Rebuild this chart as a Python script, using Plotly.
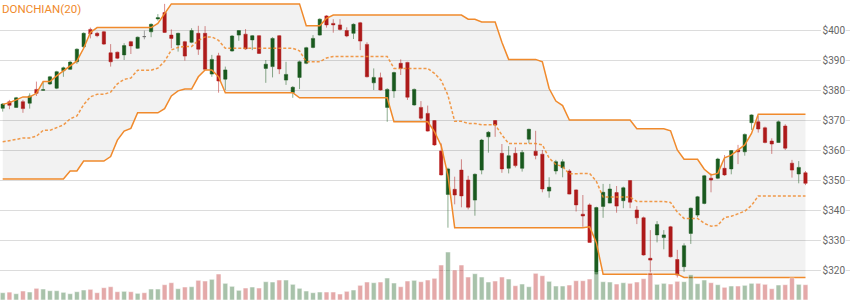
import plotly.graph_objects as go

# Daily OHLC prices
opens = [373.9, 376.1, 374.2, 376.1, 375.6, 380.2, 379.9, 382.0, 380.6, 386.4,
         386.9, 389.4, 394.4, 400.2, 398.9, 399.4, 392.4, 392.6, 391.7, 396.1,
         393.9, 397.8, 399.4, 403.7, 405.8, 398.3, 395.0, 396.1, 395.9, 398.9,
         398.9, 385.3, 391.4, 383.6, 393.0, 398.3, 398.6, 396.7, 398.1, 387.2,
         387.8, 398.1, 383.3, 379.2, 384.2, 388.9, 394.2, 398.3, 404.7, 402.2,
         401.7, 399.8, 398.9, 402.4, 395.2, 382.4, 384.1, 374.2, 379.7, 388.9,
         389.2, 375.0, 374.2, 372.2, 369.8, 359.7, 345.2, 346.9, 353.3, 350.0,
         343.3, 353.3, 364.4, 369.8, 358.9, 353.9, 358.9, 353.9, 363.6, 359.6,
         358.6, 346.3, 353.0, 354.1, 353.0, 346.7, 338.6, 341.7, 318.7, 341.2,
         342.3, 345.8, 343.1, 349.8, 340.0, 337.4, 323.9, 331.7, 330.8, 334.4,
         323.5, 321.1, 332.2, 338.3, 342.2, 350.6, 350.6, 353.9, 353.7, 360.0,
         359.4, 369.1, 369.4, 367.4, 363.0, 362.5, 368.0, 355.6, 352.0, 352.4]

highs = [375.6, 376.7, 377.7, 376.7, 378.9, 382.8, 382.8, 384.7, 386.4, 387.8,
         389.7, 393.9, 399.2, 400.8, 399.4, 399.7, 395.3, 392.8, 395.6, 396.4,
         397.8, 399.8, 402.2, 405.3, 408.7, 400.2, 399.1, 396.4, 400.6, 401.4,
         401.3, 391.7, 392.4, 387.8, 398.3, 400.0, 400.3, 398.3, 398.3, 390.0,
         397.6, 398.3, 389.4, 381.3, 389.8, 394.4, 398.3, 403.9, 405.0, 403.6,
         403.6, 400.9, 402.2, 402.7, 395.9, 387.2, 385.8, 380.6, 386.1, 390.2,
         389.4, 380.5, 376.3, 374.8, 370.0, 362.2, 354.1, 351.1, 356.9, 351.4,
         352.2, 363.7, 366.3, 370.0, 362.0, 361.3, 360.9, 360.0, 367.1, 366.4,
         360.0, 350.9, 356.7, 356.9, 353.6, 346.9, 345.0, 342.2, 341.1, 348.7,
         348.7, 348.0, 347.8, 350.0, 341.3, 337.8, 333.3, 336.3, 333.3, 334.7,
         326.7, 328.9, 340.8, 344.7, 351.7, 352.2, 357.4, 358.3, 360.0, 361.7,
         365.5, 371.9, 371.3, 367.8, 363.9, 369.8, 368.6, 356.7, 356.3, 353.0]

lows = [372.8, 373.6, 374.1, 372.4, 373.8, 378.0, 379.7, 381.7, 380.3, 384.4,
        386.7, 388.7, 394.2, 397.2, 397.6, 395.0, 387.8, 390.3, 390.0, 392.0,
        393.7, 396.9, 397.6, 403.1, 399.0, 393.9, 392.8, 389.8, 395.6, 391.7,
        386.7, 384.4, 379.1, 380.0, 392.8, 396.4, 393.4, 393.3, 392.0, 382.4,
        384.2, 385.3, 381.7, 377.4, 380.3, 388.6, 393.9, 398.1, 400.8, 399.1,
        399.8, 397.6, 397.0, 393.3, 384.2, 380.0, 379.8, 369.4, 377.4, 385.0,
        376.7, 374.8, 370.0, 366.1, 361.4, 351.5, 334.1, 341.9, 340.9, 340.2,
        338.1, 351.9, 359.1, 364.4, 352.4, 352.2, 354.2, 352.8, 362.2, 356.9,
        345.9, 344.1, 351.9, 350.9, 345.2, 339.5, 334.4, 329.1, 318.6, 337.4,
        342.2, 339.1, 340.6, 340.6, 335.3, 324.8, 319.1, 329.2, 326.9, 324.2,
        317.5, 319.4, 328.7, 337.6, 341.9, 345.9, 350.3, 351.4, 351.9, 355.3,
        358.1, 366.7, 365.8, 362.2, 358.7, 362.4, 360.0, 350.8, 348.9, 348.3]

closes = [375.3, 374.9, 377.4, 373.8, 378.0, 378.9, 380.1, 384.4, 386.1, 387.4,
          389.3, 393.6, 398.9, 398.7, 398.1, 395.3, 389.4, 390.6, 394.8, 394.7,
          397.6, 397.8, 401.9, 404.1, 399.2, 397.2, 398.9, 391.3, 399.8, 393.6,
          386.9, 390.2, 383.0, 386.7, 398.0, 399.8, 393.7, 398.1, 392.2, 388.6,
          397.2, 387.0, 385.2, 380.9, 389.4, 394.1, 397.2, 403.6, 401.7, 401.7,
          400.2, 398.0, 401.9, 396.3, 384.4, 384.2, 380.0, 380.2, 385.8, 387.2,
          377.6, 380.2, 370.6, 366.3, 361.7, 351.7, 353.7, 345.0, 344.7, 340.9,
          351.9, 363.3, 365.9, 368.3, 353.7, 358.1, 354.8, 359.2, 366.9, 358.2,
          347.0, 347.6, 356.1, 356.1, 345.3, 341.7, 338.0, 329.2, 340.8, 345.9,
          347.0, 341.3, 347.4, 342.6, 337.4, 325.0, 323.3, 335.2, 331.7, 324.4,
          318.3, 328.1, 340.6, 344.4, 351.4, 350.0, 357.0, 351.7, 359.8, 359.4,
          365.2, 371.7, 367.0, 362.5, 362.0, 369.4, 360.6, 353.3, 354.2, 348.9]

# Volume, millions of shares
volumes = [14.6, 15.8, 12.6, 18.0, 16.0, 23.4, 22.0, 18.6, 18.6, 15.4,
           12.6, 16.6, 20.0, 21.4, 14.6, 24.6, 26.6, 16.6, 17.4, 16.6,
           13.4, 14.6, 22.0, 22.0, 30.6, 34.6, 22.6, 26.0, 26.6, 39.4,
           38.0, 41.4, 52.0, 33.4, 27.4, 19.4, 24.0, 26.0, 24.0, 36.6,
           36.0, 40.0, 40.0, 31.4, 23.4, 18.0, 14.6, 16.0, 16.0, 16.0,
           12.0, 17.4, 20.0, 29.4, 36.0, 34.6, 36.0, 44.0, 34.0, 26.6,
           38.0, 39.4, 36.6, 40.0, 43.4, 70.0, 96.0, 60.0, 70.0, 46.0,
           52.6, 46.0, 36.0, 38.0, 46.0, 42.0, 28.6, 32.0, 26.6, 53.4,
           48.6, 37.4, 28.0, 28.0, 30.0, 38.6, 38.6, 42.0, 54.0, 36.6,
           36.0, 32.0, 34.6, 33.4, 36.0, 42.6, 54.6, 31.4, 33.4, 32.0,
           37.4, 36.6, 50.6, 32.6, 40.0, 34.6, 30.6, 25.4, 28.0, 28.0,
           29.4, 33.4, 33.4, 31.4, 22.6, 30.0, 30.6, 44.0, 31.4, 30.6]

# Donchian(20) bands: highest high / lowest low of the prior 20 sessions
upper = [375.2, 375.8, 376.7, 377.7, 377.7, 378.9, 382.8, 382.8, 384.7, 386.4,
         387.8, 389.7, 393.9, 399.2, 400.8, 400.8, 400.8, 400.8, 400.8, 400.8,
         400.8, 400.8, 400.8, 402.2, 405.3, 408.7, 408.7, 408.7, 408.7, 408.7,
         408.7, 408.7, 408.7, 408.7, 408.7, 408.7, 408.7, 408.7, 408.7, 408.7,
         408.7, 408.7, 408.7, 408.7, 408.7, 401.4, 401.4, 401.4, 403.9, 405.0,
         405.0, 405.0, 405.0, 405.0, 405.0, 405.0, 405.0, 405.0, 405.0, 405.0,
         405.0, 405.0, 405.0, 405.0, 405.0, 405.0, 405.0, 405.0, 405.0, 403.6,
         403.6, 402.7, 402.7, 402.7, 395.9, 390.2, 390.2, 390.2, 390.2, 390.2,
         389.4, 380.5, 376.3, 374.8, 370.0, 370.0, 370.0, 370.0, 370.0, 370.0,
         370.0, 370.0, 370.0, 370.0, 367.1, 367.1, 367.1, 367.1, 367.1, 366.4,
         360.0, 356.9, 356.9, 356.9, 353.6, 351.7, 352.2, 357.4, 358.3, 360.0,
         361.7, 365.5, 371.9, 371.9, 371.9, 371.9, 371.9, 371.9, 371.9, 371.9]

lower = [350.3, 350.3, 350.3, 350.3, 350.3, 350.3, 350.3, 350.3, 350.3, 350.3,
         353.0, 353.0, 356.3, 356.3, 356.3, 356.3, 357.8, 363.3, 366.3, 367.2,
         372.4, 372.4, 372.4, 372.4, 373.8, 378.0, 379.7, 380.3, 380.3, 384.4,
         386.7, 386.7, 384.4, 379.1, 379.1, 379.1, 379.1, 379.1, 379.1, 379.1,
         379.1, 379.1, 379.1, 379.1, 377.4, 377.4, 377.4, 377.4, 377.4, 377.4,
         377.4, 377.4, 377.4, 377.4, 377.4, 377.4, 377.4, 377.4, 369.4, 369.4,
         369.4, 369.4, 369.4, 369.4, 366.1, 361.4, 351.5, 334.1, 334.1, 334.1,
         334.1, 334.1, 334.1, 334.1, 334.1, 334.1, 334.1, 334.1, 334.1, 334.1,
         334.1, 334.1, 334.1, 334.1, 334.1, 334.1, 334.1, 334.4, 329.1, 318.6,
         318.6, 318.6, 318.6, 318.6, 318.6, 318.6, 318.6, 318.6, 318.6, 318.6,
         318.6, 317.5, 317.5, 317.5, 317.5, 317.5, 317.5, 317.5, 317.5, 317.5,
         317.5, 317.5, 317.5, 317.5, 317.5, 317.5, 317.5, 317.5, 317.5, 317.5]

price_ticks = [320, 330, 340, 350, 360, 370, 380, 390, 400]
price_labels = ["$320", "$330", "$340", "$350", "$360", "$370", "$380", "$390", "$400"]

title_text = "DONCHIAN(20)"

UP_COLOR = "#1b5e20"
DOWN_COLOR = "#b71c1c"
BAND_COLOR = "#f08a2c"

n = len(closes)
x = list(range(n))
middle = [(u + l) / 2 for u, l in zip(upper, lower)]

fig = go.Figure()

# Channel: upper band, lower band with shaded range, dashed centerline
fig.add_trace(go.Scatter(
    x=x, y=upper, yaxis="y", mode="lines",
    line=dict(color=BAND_COLOR, width=1.5), opacity=0.85,
))
fig.add_trace(go.Scatter(
    x=x, y=lower, yaxis="y", mode="lines",
    line=dict(color=BAND_COLOR, width=1.5), opacity=0.85,
    fill="tonexty", fillcolor="rgba(0,0,0,0.05)",
))
fig.add_trace(go.Scatter(
    x=x, y=middle, yaxis="y", mode="lines",
    line=dict(color=BAND_COLOR, width=1.5, dash="3px,2px"), opacity=0.85,
))

# Candles: rising/falling sessions, and unchanged sessions in gray
moving = [i for i in x if closes[i] != opens[i]]
flat = [i for i in x if closes[i] == opens[i]]

fig.add_trace(go.Candlestick(
    x=[x[i] for i in moving],
    open=[opens[i] for i in moving], high=[highs[i] for i in moving],
    low=[lows[i] for i in moving], close=[closes[i] for i in moving],
    yaxis="y", whiskerwidth=0,
    increasing=dict(fillcolor=UP_COLOR, line=dict(color="rgba(27,94,32,0.5)", width=1)),
    decreasing=dict(fillcolor=DOWN_COLOR, line=dict(color="rgba(183,28,28,0.5)", width=1)),
))
if flat:
    fig.add_trace(go.Candlestick(
        x=[x[i] for i in flat],
        open=[opens[i] for i in flat], high=[highs[i] for i in flat],
        low=[lows[i] for i in flat], close=[closes[i] for i in flat],
        yaxis="y", whiskerwidth=0,
        increasing=dict(fillcolor="#808080", line=dict(color="rgba(110,110,110,0.6)", width=1)),
        decreasing=dict(fillcolor="#808080", line=dict(color="rgba(110,110,110,0.6)", width=1)),
    ))

# Volume histogram along the bottom, on its own hidden scale
vol_colors = ["rgba(27,94,32,0.38)" if c > o else "rgba(183,28,28,0.38)"
              for o, c in zip(opens, closes)]
fig.add_trace(go.Bar(
    x=x, y=volumes, yaxis="y2",
    marker=dict(color=vol_colors, line=dict(color="rgba(255,255,255,0.9)", width=0.6)),
    hoverinfo="skip",
))

# White plates behind the price labels so gridlines break around them
for v in price_ticks:
    fig.add_shape(type="rect", xref="x", yref="y",
                  x0=121.3, x1=124.95, y0=v - 1.8, y1=v + 1.8,
                  fillcolor="white", line=dict(width=0), layer="between")

fig.add_annotation(
    text=title_text, xref="paper", yref="paper", x=0, y=1,
    xanchor="left", yanchor="top", showarrow=False, xshift=0, yshift=0,
    font=dict(family="Roboto", size=11.5, color=BAND_COLOR),
)

fig.update_layout(
    width=850, height=300,
    margin=dict(l=0, r=0, t=0, b=0),
    paper_bgcolor="white", plot_bgcolor="white",
    showlegend=False, bargap=0.28,
    xaxis=dict(range=[-0.4, 125.6], visible=False, rangeslider=dict(visible=False)),
    yaxis=dict(
        range=[310, 410], side="right",
        tickvals=price_ticks, ticktext=price_labels,
        ticklabelposition="inside", ticks="", ticklabelstandoff=2,
        showgrid=True, gridcolor="#dcdcdc", gridwidth=1,
        zeroline=False, showline=False,
        tickfont=dict(family="Roboto", size=10, color="#666666"),
    ),
    yaxis2=dict(range=[0, 600], overlaying="y", visible=False, showgrid=False),
)

fig.write_html("out.html")
